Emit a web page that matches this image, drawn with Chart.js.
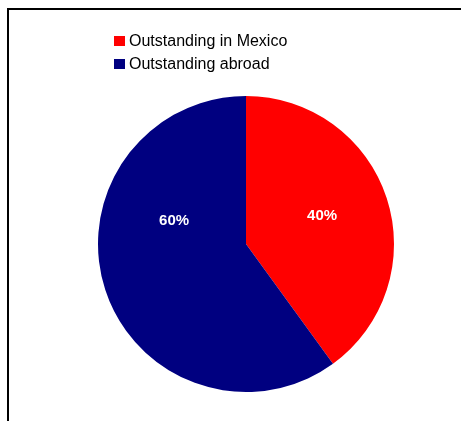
<!DOCTYPE html>
<html>
<head>
<meta charset="utf-8">
<script src="https://cdn.jsdelivr.net/npm/chart.js@4/dist/chart.umd.min.js"></script>
<style>
  html, body { margin: 0; padding: 0; background: #fff; }
  #wrap { position: relative; width: 461px; height: 421px; overflow: hidden; }
  #frame {
    position: absolute; left: 7px; top: 8px; right: 0; bottom: 0;
    border-top: 2px solid #000; border-left: 2px solid #000;
  }
  #chart { position: absolute; left: 0; top: 0; }
  #legend {
    position: absolute; left: 114px; top: 29px;
    font-family: Arial, "Liberation Sans", sans-serif; font-size: 16px; color: #000;
  }
  #legend .item { display: flex; align-items: center; height: 23px; }
  #legend .box { width: 11px; height: 10px; margin-right: 4px; }
</style>
</head>
<body>
<div id="wrap">
  <div id="frame"></div>
  <canvas id="chart" width="461" height="421"></canvas>
  <div id="legend"></div>
</div>
<script>
// Chart data
const categories = ['Outstanding in Mexico', 'Outstanding abroad'];
const shares = [40, 60];
const colors = ['#FF0000', '#000080'];
const labelTexts = ['40%', '60%'];

// Label placement as (x, y) fractions of the radius from the centre
const labelPlacement = [[0.514, -0.189], [-0.486, -0.155]];

const sliceLabels = {
  id: 'sliceLabels',
  afterDatasetsDraw(chart) {
    const ctx = chart.ctx;
    const meta = chart.getDatasetMeta(0);
    ctx.save();
    ctx.fillStyle = '#ffffff';
    ctx.font = 'bold 15px Arial, "Liberation Sans", sans-serif';
    ctx.textAlign = 'center';
    ctx.textBaseline = 'middle';
    meta.data.forEach((arc, i) => {
      const r = arc.outerRadius;
      const [fx, fy] = labelPlacement[i];
      ctx.fillText(labelTexts[i], arc.x + fx * r, arc.y + fy * r);
    });
    ctx.restore();
  }
};

const chart = new Chart(document.getElementById('chart'), {
  type: 'pie',
  data: {
    labels: categories,
    datasets: [{
      data: shares,
      backgroundColor: colors,
      borderWidth: 0
    }]
  },
  options: {
    responsive: false,
    animation: false,
    layout: { padding: { left: 98, top: 96, right: 67, bottom: 29 } },
    plugins: {
      legend: { display: false },
      tooltip: { enabled: false }
    }
  },
  plugins: [sliceLabels]
});

// Legend built from the chart's own labels
const legendEl = document.getElementById('legend');
chart.data.labels.forEach((label, i) => {
  const item = document.createElement('div');
  item.className = 'item';
  const box = document.createElement('span');
  box.className = 'box';
  box.style.background = colors[i];
  const txt = document.createElement('span');
  txt.textContent = label;
  item.appendChild(box);
  item.appendChild(txt);
  legendEl.appendChild(item);
});
</script>
</body>
</html>
